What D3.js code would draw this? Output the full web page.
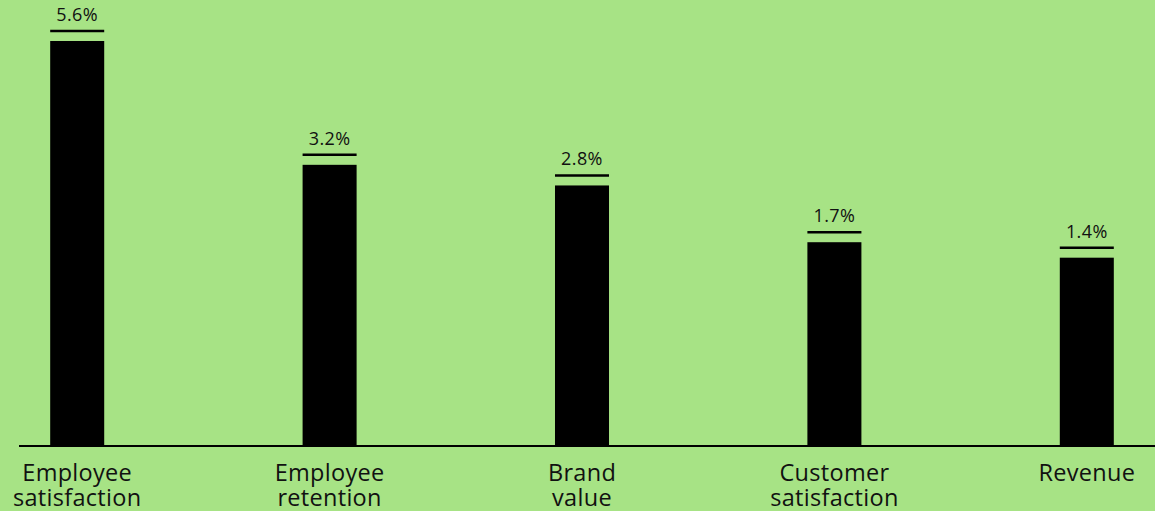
<!DOCTYPE html>
<html>
<head>
<meta charset="utf-8">
<script src="https://cdn.jsdelivr.net/npm/d3@7"></script>
<style>
  html, body { margin: 0; padding: 0; background: #a7e385; }
  svg { display: block; font-family: "Open Sans", Lato, sans-serif; }
</style>
</head>
<body>
<script>
const categories = [["Employee", "satisfaction"], ["Employee", "retention"], ["Brand", "value"], ["Customer", "satisfaction"], ["Revenue"]];
const values = [5.6, 3.2, 2.8, 1.7, 1.4];
const valueLabels = ["5.6%", "3.2%", "2.8%", "1.7%", "1.4%"];

const width = 1155, height = 511;
const baseY = 446;

const svg = d3.select("body").append("svg")
    .attr("width", width)
    .attr("height", height);

svg.append("rect")
    .attr("width", width)
    .attr("height", height)
    .attr("fill", "#a7e385");

const x = d3.scaleBand()
    .domain(d3.range(values.length))
    .range([-49, 1213])
    .paddingInner(0.786)
    .paddingOuter(0.393);

const y = d3.scaleLinear()
    .domain([-2.25, 5.6])
    .range([baseY, 41]);

svg.selectAll("rect.bar")
    .data(values)
    .enter().append("rect")
    .attr("class", "bar")
    .attr("x", (d, i) => x(i))
    .attr("y", d => y(d))
    .attr("width", x.bandwidth())
    .attr("height", d => baseY - y(d))
    .attr("fill", "#000");

svg.selectAll("line.cap")
    .data(values)
    .enter().append("line")
    .attr("x1", (d, i) => x(i))
    .attr("x2", (d, i) => x(i) + x.bandwidth())
    .attr("y1", d => y(d) - 10)
    .attr("y2", d => y(d) - 10)
    .attr("stroke", "#000")
    .attr("stroke-width", 2.5);

svg.selectAll("text.val")
    .data(values)
    .enter().append("text")
    .attr("x", (d, i) => x(i) + x.bandwidth() / 2)
    .attr("y", d => y(d) - 20)
    .attr("text-anchor", "middle")
    .attr("font-size", 18)
    .attr("letter-spacing", 0.4)
    .attr("fill", "#111")
    .text((d, i) => valueLabels[i]);

svg.append("line")
    .attr("x1", 19)
    .attr("x2", width)
    .attr("y1", baseY)
    .attr("y2", baseY)
    .attr("stroke", "#000")
    .attr("stroke-width", 2);

const labels = svg.selectAll("text.cat")
    .data(categories)
    .enter().append("text")
    .attr("text-anchor", "middle")
    .attr("font-size", 23.5)
    .attr("letter-spacing", 0.3)
    .attr("fill", "#111");

labels.selectAll("tspan")
    .data((d, i) => d.map(t => ({ t, i })))
    .enter().append("tspan")
    .attr("x", d => x(d.i) + x.bandwidth() / 2)
    .attr("y", (d, j) => 481 + j * 25)
    .text(d => d.t);
</script>
</body>
</html>
